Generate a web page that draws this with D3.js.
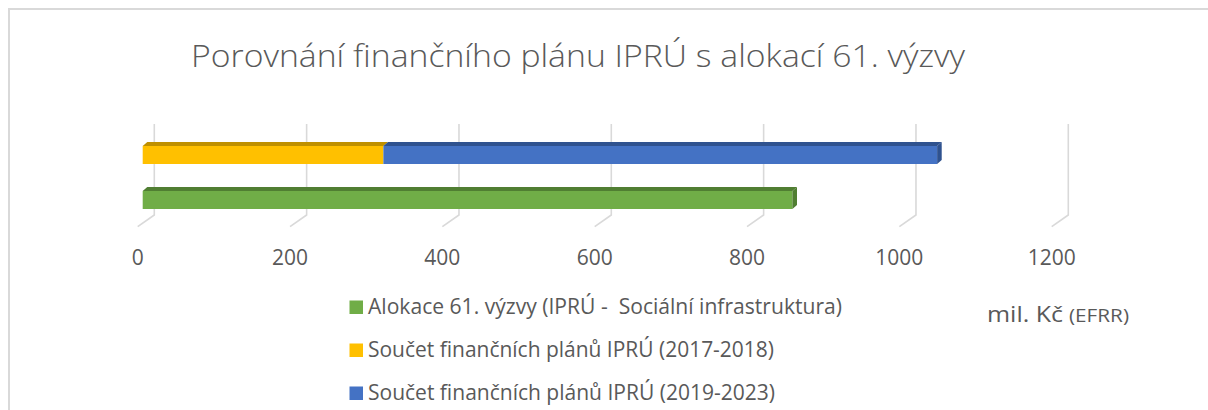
<!DOCTYPE html>
<html>
<head>
<meta charset="utf-8">
<script src="https://cdn.jsdelivr.net/npm/d3@7"></script>
<style>
  html, body { margin: 0; background: #fff; overflow: hidden; }
  svg { display: block; font-family: "Open Sans", sans-serif; }
  text { white-space: pre; }
</style>
</head>
<body>
<div id="chart"></div>
<script>
// rows of the chart, top to bottom
var rows = ["plany", "alokace"];
// series values (mil. Kč)
var alokace = [0, 853];
var plan2017 = [316, 0];
var plan2019 = [727, 0];
var seriesKeys = ["alokace", "plan2017", "plan2019"];
var seriesNames = [
    "Alokace 61. výzvy (IPRÚ -  Sociální infrastruktura)",
    "Součet finančních plánů IPRÚ (2017-2018)",
    "Součet finančních plánů IPRÚ (2019-2023)"
];
var seriesColors = ["#70ad47", "#ffc000", "#4472c4"];
var seriesDark = ["#507e32", "#bf9000", "#2f528f"];
var ticks = [0, 200, 400, 600, 800, 1000, 1200];
var title = "Porovnání finančního plánu IPRÚ s alokací 61. výzvy";

var width = 1208, height = 410;
var svg = d3.select("#chart").append("svg")
    .attr("width", width)
    .attr("height", height);

// frame of the chart area
svg.append("path")
    .attr("d", "M9,412V9H1212")
    .attr("fill", "none")
    .attr("stroke", "#d9d9d9")
    .attr("stroke-width", 2);

var x = d3.scaleLinear().domain([0, 1200]).range([0, 914]);
var y = d3.scaleBand().domain(rows).range([132.5, 222.5])
    .paddingInner(0.6).paddingOuter(0.3);

var backX = 154.3, frontX = 142.7, floorX = 137.7;
var wallTop = 124, wallBottom = 215, floorY = 226.7;
var dx = 4.6, dy = -4;

// gridlines on the back wall, with the floor diagonal
svg.append("g").selectAll("path")
    .data(ticks)
  .enter().append("path")
    .attr("d", function(d) {
        var xb = backX + x(d);
        return "M" + xb + "," + wallTop + "V" + wallBottom +
               "L" + (floorX + x(d)) + "," + floorY;
    })
    .attr("fill", "none")
    .attr("stroke", "#d9d9d9")
    .attr("stroke-width", 1.6);

// tick labels
svg.append("g").selectAll("text")
    .data(ticks)
  .enter().append("text")
    .attr("x", function(d) { return floorX + x(d); })
    .attr("y", 265)
    .attr("text-anchor", "middle")
    .attr("font-size", 21)
    .attr("fill", "#595959")
    .text(function(d) { return d; });

// stacked bars
var data = rows.map(function(r, i) {
    return { row: r, alokace: alokace[i], plan2017: plan2017[i], plan2019: plan2019[i] };
});
var stack = d3.stack().keys(seriesKeys)(data);

var segs = [];
stack.forEach(function(layer, k) {
    layer.forEach(function(s, i) {
        if (s[1] - s[0] > 0) {
            segs.push({ k: k, row: data[i].row, x0: s[0], x1: s[1] });
        }
    });
});
// mark last segment of each row (gets the end face)
rows.forEach(function(r) {
    var inRow = segs.filter(function(s) { return s.row === r; });
    if (inRow.length) inRow[inRow.length - 1].last = true;
});

var bars = svg.append("g").selectAll("g")
    .data(segs)
  .enter().append("g");

bars.append("path")   // top face
    .attr("d", function(d) {
        var a = frontX + x(d.x0), b = frontX + x(d.x1), t = y(d.row);
        return "M" + a + "," + t + "L" + (a + dx) + "," + (t + dy) +
               "L" + (b + dx) + "," + (t + dy) + "L" + b + "," + t + "Z";
    })
    .attr("fill", function(d) { return seriesDark[d.k]; });

bars.append("rect")   // front face
    .attr("x", function(d) { return frontX + x(d.x0); })
    .attr("y", function(d) { return y(d.row); })
    .attr("width", function(d) { return x(d.x1) - x(d.x0); })
    .attr("height", y.bandwidth())
    .attr("fill", function(d) { return seriesColors[d.k]; });

bars.filter(function(d) { return d.last; }).append("path")   // end face
    .attr("d", function(d) {
        var b = frontX + x(d.x1), t = y(d.row), h = y.bandwidth();
        return "M" + b + "," + t + "L" + (b + dx) + "," + (t + dy) +
               "L" + (b + dx) + "," + (t + dy + h) + "L" + b + "," + (t + h) + "Z";
    })
    .attr("fill", function(d) { return seriesDark[d.k]; });

// title
svg.append("text")
    .attr("x", 191)
    .attr("y", 67)
    .attr("font-size", 31)
    .attr("font-weight", 300)
    .attr("fill", "#595959")
    .attr("textLength", 774)
    .attr("lengthAdjust", "spacingAndGlyphs")
    .text(title);

// legend
var legendY = [314, 357, 400];
var legendW = [474, 406, 407];
var legend = svg.append("g").selectAll("g")
    .data(seriesNames)
  .enter().append("g");

legend.append("rect")
    .attr("x", 349.5)
    .attr("y", function(d, i) { return legendY[i] - 13.5; })
    .attr("width", 13.5)
    .attr("height", 13.5)
    .attr("fill", function(d, i) { return seriesColors[i]; });

legend.append("text")
    .attr("x", 368)
    .attr("y", function(d, i) { return legendY[i]; })
    .attr("font-size", 21)
    .attr("fill", "#595959")
    .attr("textLength", function(d, i) { return legendW[i]; })
    .attr("lengthAdjust", "spacingAndGlyphs")
    .text(function(d) { return d; });

// unit label
var unit = svg.append("text")
    .attr("x", 987)
    .attr("y", 321.7)
    .attr("fill", "#595959");
unit.append("tspan")
    .attr("font-size", 21)
    .attr("textLength", 76)
    .attr("lengthAdjust", "spacingAndGlyphs")
    .text("mil. Kč");
unit.append("tspan")
    .attr("x", 1069)
    .attr("font-size", 18)
    .attr("textLength", 60)
    .attr("lengthAdjust", "spacingAndGlyphs")
    .text("(EFRR)");
</script>
</body>
</html>
